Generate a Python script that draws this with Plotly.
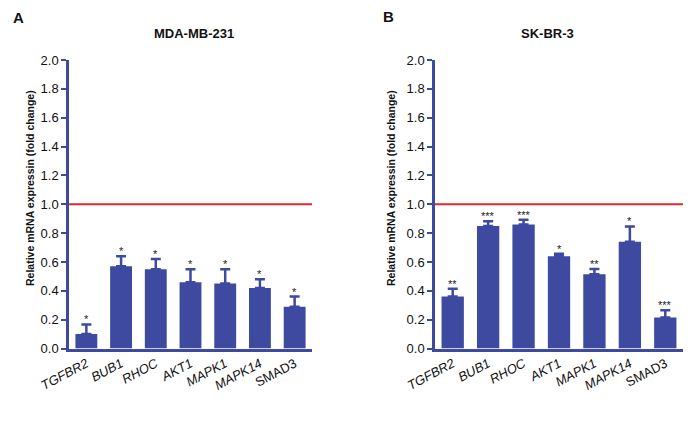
import plotly.graph_objects as go

genes = ["TGFBR2", "BUB1", "RHOC", "AKT1", "MAPK1", "MAPK14", "SMAD3"]
italic = [True, True, True, True, True, True, False]

mda_values = [0.10, 0.57, 0.55, 0.46, 0.45, 0.42, 0.29]
mda_errors = [0.067, 0.07, 0.07, 0.09, 0.10, 0.06, 0.07]
mda_stars = ["*", "*", "*", "*", "*", "*", "*"]

skbr_values = [0.36, 0.85, 0.86, 0.64, 0.515, 0.74, 0.215]
skbr_errors = [0.055, 0.033, 0.032, 0.016, 0.036, 0.106, 0.05]
skbr_stars = ["**", "***", "***", "*", "**", "*", "***"]

y_ticks = [0.0, 0.2, 0.4, 0.6, 0.8, 1.0, 1.2, 1.4, 1.6, 1.8, 2.0]
reference_level = 1.0

BAR = "#3d4a9f"
RED = "#e0282e"
FONT = "Liberation Sans, Arial"

# page body has an 8px default margin; figure fills the rest of the 698x425 window
OX, OY = 8, 8
W, H = 698 - OX, 425 - OY


def px(x):
    return (x - OX) / W


def py(y):
    return (H - (y - OY)) / H


ticktext = [f"<i>{g}</i>" if it else g for g, it in zip(genes, italic)]

fig = go.Figure()

panels = [
    (mda_values, mda_errors, mda_stars, "x", "y"),
    (skbr_values, skbr_errors, skbr_stars, "x2", "y2"),
]
ydom = [py(348.5), py(60)]

annotations = []
shapes = []
for vals, errs, stars, xa, ya in panels:
    fig.add_trace(go.Bar(
        x=genes, y=vals, xaxis=xa, yaxis=ya,
        marker=dict(color=BAR, line=dict(width=0)),
        width=0.63,
        error_y=dict(type="data", symmetric=False, array=errs,
                     arrayminus=[0] * len(errs), color=BAR,
                     thickness=2.5, width=5),
        showlegend=False,
    ))
    for g, v, e, s in zip(genes, vals, errs, stars):
        annotations.append(dict(
            x=g, y=v + e, xref=xa, yref=ya, text=s, showarrow=False,
            yanchor="bottom", yshift=-3,
            font=dict(family=FONT, size=11, color="#222222"),
        ))
    shapes.append(dict(
        type="line", xref=xa, yref=ya, x0=-0.5, x1=6.5,
        y0=reference_level, y1=reference_level,
        line=dict(color=RED, width=2.2), layer="above",
    ))

line_common = dict(
    showgrid=False, zeroline=False, showline=True, automargin=False,
    linecolor=BAR, linewidth=2.5,
    tickfont=dict(family=FONT, size=13, color="#111111"),
)

xcommon = dict(range=[-0.5, 6.5], tickmode="array", tickvals=genes,
               ticktext=ticktext, tickangle=-28, ticks="", **line_common)
ycommon = dict(range=[0, 2.0], tickmode="array", tickvals=y_ticks,
               ticktext=[f"{t:.1f}" for t in y_ticks],
               ticks="outside", tickcolor=BAR, tickwidth=2, ticklen=5,
               **line_common)

fig.update_layout(
    width=W, height=H, autosize=False,
    margin=dict(l=0, r=0, t=0, b=0, pad=0),
    plot_bgcolor="white", paper_bgcolor="white",
    xaxis=dict(domain=[px(69), px(312)], anchor="y", **xcommon),
    yaxis=dict(domain=ydom, anchor="x", **ycommon),
    xaxis2=dict(domain=[px(435), px(683)], anchor="y2", **xcommon),
    yaxis2=dict(domain=ydom, anchor="x2", **ycommon),
    shapes=shapes,
)

ytitle = "Relative mRNA expressin (fold change)"
bold_font = dict(family=FONT, color="#111111")
extra = [
    dict(x=px(18), y=py(17.5), text="<b>A</b>", font=dict(size=15, **bold_font)),
    dict(x=px(388), y=py(17), text="<b>B</b>", font=dict(size=15, **bold_font)),
    dict(x=px(194), y=py(34), text="<b>MDA-MB-231</b>", font=dict(size=13, **bold_font)),
    dict(x=px(547), y=py(34), text="<b>SK-BR-3</b>", font=dict(size=13, **bold_font)),
    dict(x=px(30), y=py(188), text=f"<b>{ytitle}</b>", textangle=-90,
         font=dict(size=10.5, **bold_font)),
    dict(x=px(391), y=py(188), text=f"<b>{ytitle}</b>", textangle=-90,
         font=dict(size=10.5, **bold_font)),
]
for a in extra:
    a.update(xref="paper", yref="paper", showarrow=False, xanchor="center",
             yanchor="middle", borderpad=0)
    annotations.append(a)

fig.update_layout(annotations=annotations)
fig.write_html("out.html", config={"responsive": False})
